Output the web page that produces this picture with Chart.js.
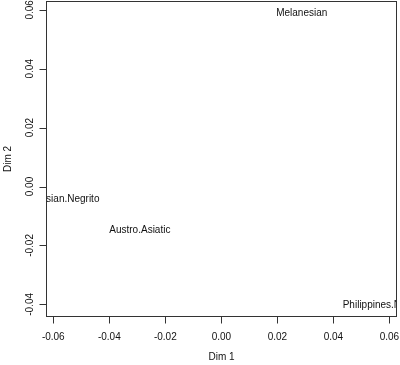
<!DOCTYPE html>
<html>
<head>
<meta charset="utf-8">
<script src="https://cdn.jsdelivr.net/npm/chart.js@4"></script>
<style>
  html, body { margin: 0; padding: 0; background: #fff; }
  #wrap { width: 400px; height: 365px; }
</style>
</head>
<body>
<div id="wrap"><canvas id="grafica" width="400" height="365"></canvas></div>
<script>
// poblaciones y coordenadas (Dim 1, Dim 2)
const etiquetas = ["Melanesian", "Austro.Asiatic", "Malaysian.Negrito", "Philippines.Negrito"];
const dim1 = [0.0287, -0.0291, -0.0578, 0.0582];
const dim2 = [0.0590, -0.0148, -0.0042, -0.0403];
const ticksX = [-0.06, -0.04, -0.02, 0.00, 0.02, 0.04, 0.06];
const ticksY = [-0.04, -0.02, 0.00, 0.02, 0.04, 0.06];
const limX = [-0.0626, 0.0627];
const limY = [-0.0443, 0.0630];

const fuente = "10px 'Liberation Sans', Arial, Helvetica, sans-serif";

const ejesR = {
    id: "ejesR",
    afterDraw(chart) {
        const ctx = chart.ctx;
        const a = chart.chartArea;
        const sx = chart.scales.x;
        const sy = chart.scales.y;
        ctx.save();

        // etiquetas de texto en cada punto (recortadas al area)
        ctx.save();
        ctx.beginPath();
        ctx.rect(a.left, a.top, a.right - a.left, a.bottom - a.top);
        ctx.clip();
        ctx.fillStyle = "#111";
        ctx.font = fuente;
        ctx.textAlign = "center";
        ctx.textBaseline = "middle";
        etiquetas.forEach((t, i) => {
            ctx.fillText(t, sx.getPixelForValue(dim1[i]), sy.getPixelForValue(dim2[i]));
        });
        ctx.restore();

        // caja
        ctx.strokeStyle = "#333";
        ctx.lineWidth = 1;
        ctx.strokeRect(Math.round(a.left) + 0.5, Math.round(a.top) + 0.5,
            Math.round(a.right - a.left) - 1, Math.round(a.bottom - a.top) - 1);

        // eje x
        const yb = Math.round(a.bottom) - 0.5;
        ctx.beginPath();
        ticksX.forEach(v => {
            const px = Math.round(sx.getPixelForValue(v)) + 0.5;
            ctx.moveTo(px, yb);
            ctx.lineTo(px, yb + 7);
        });
        ctx.stroke();
        ctx.fillStyle = "#111";
        ctx.font = fuente;
        ctx.textAlign = "center";
        ctx.textBaseline = "middle";
        ticksX.forEach(v => {
            ctx.fillText(v.toFixed(2), sx.getPixelForValue(v), yb + 21);
        });

        // eje y
        const xl = Math.round(a.left) + 0.5;
        ctx.beginPath();
        ticksY.forEach(v => {
            const py = Math.round(sy.getPixelForValue(v)) + 0.5;
            ctx.moveTo(xl, py);
            ctx.lineTo(xl - 7, py);
        });
        ctx.stroke();
        ticksY.forEach(v => {
            ctx.save();
            ctx.translate(xl - 16, sy.getPixelForValue(v));
            ctx.rotate(-Math.PI / 2);
            ctx.fillText(v.toFixed(2), 0, 0);
            ctx.restore();
        });

        // titulos
        ctx.fillText("Dim 1", (a.left + a.right) / 2, 357);
        ctx.save();
        ctx.translate(8, (a.top + a.bottom) / 2);
        ctx.rotate(-Math.PI / 2);
        ctx.fillText("Dim 2", 0, 0);
        ctx.restore();

        ctx.restore();
    }
};

new Chart(document.getElementById("grafica").getContext("2d"), {
    type: "scatter",
    data: {
        datasets: [{
            data: dim1.map((x, i) => ({ x: x, y: dim2[i] })),
            pointRadius: 0,
            pointHoverRadius: 0
        }]
    },
    options: {
        responsive: false,
        animation: false,
        layout: { padding: { left: 46, right: 3, top: 1, bottom: 48 } },
        plugins: { legend: { display: false }, tooltip: { enabled: false } },
        scales: {
            x: { type: "linear", min: limX[0], max: limX[1], display: false },
            y: { type: "linear", min: limY[0], max: limY[1], display: false }
        }
    },
    plugins: [ejesR]
});
</script>
</body>
</html>
